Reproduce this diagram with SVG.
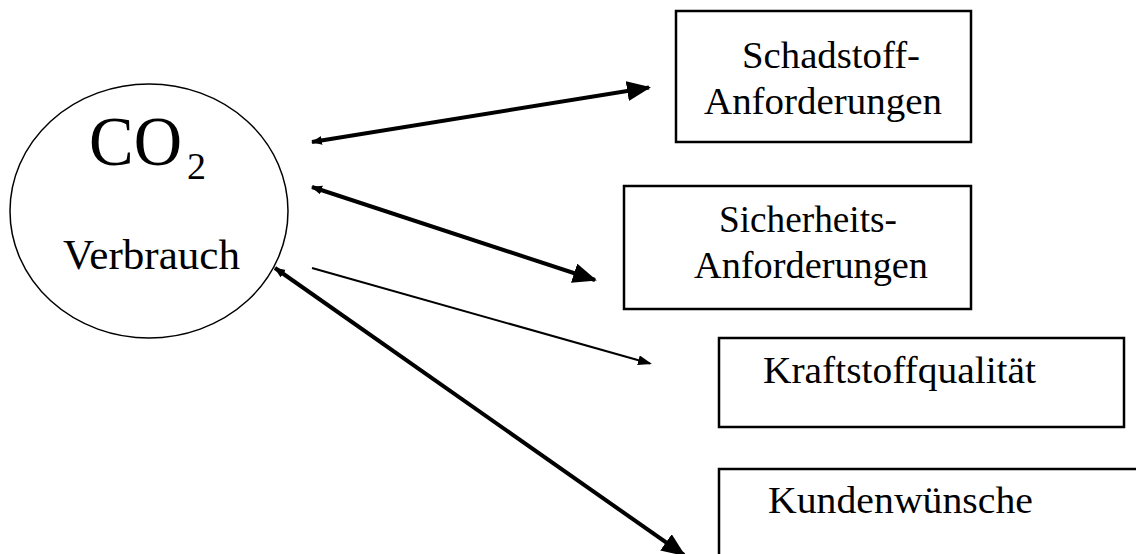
<svg xmlns="http://www.w3.org/2000/svg" width="1136" height="554" viewBox="0 0 1136 554">
<style>
.box{fill:#fff;stroke:#000;stroke-width:2.5}
.t{font-family:'Liberation Serif','DejaVu Serif',serif;fill:#000}
.c{fill:none;stroke:#000;stroke-linecap:butt}
</style>
<defs>
<marker id="big" markerUnits="userSpaceOnUse" markerWidth="26" markerHeight="22" refX="22" refY="10" orient="auto-start-reverse">
<path d="M0,0 L24,10 L0,20 z" fill="#000"/>
</marker>
<marker id="mid" markerUnits="userSpaceOnUse" markerWidth="16" markerHeight="12" refX="12" refY="5" orient="auto-start-reverse">
<path d="M0,0 L14,5 L0,10 z" fill="#000"/>
</marker>
<marker id="small" markerUnits="userSpaceOnUse" markerWidth="12" markerHeight="10" refX="10" refY="4.5" orient="auto-start-reverse">
<path d="M0,0 L11,4.5 L0,9 z" fill="#000"/>
</marker>
</defs>
<rect width="1136" height="554" fill="#fff"/>
<g id="node-co2">
<ellipse cx="149" cy="211" rx="139" ry="127" fill="#fff" stroke="#000" stroke-width="1.5"/>
<text class="t" font-family="Liberation Serif, DejaVu Serif, serif" x="89" y="165" font-size="70" textLength="93" lengthAdjust="spacingAndGlyphs">CO</text>
<text class="t" font-family="Liberation Serif, DejaVu Serif, serif" x="187" y="179" font-size="38">2</text>
<text class="t" font-family="Liberation Serif, DejaVu Serif, serif" x="63" y="269" font-size="43" textLength="177" lengthAdjust="spacingAndGlyphs">Verbrauch</text>
</g>
<g id="node-schadstoff">
<rect class="box" x="676" y="11" width="295" height="131"/>
<text class="t" font-family="Liberation Serif, DejaVu Serif, serif" x="742" y="68" font-size="37" textLength="178" lengthAdjust="spacingAndGlyphs">Schadstoff-</text>
<text class="t" font-family="Liberation Serif, DejaVu Serif, serif" x="704" y="114" font-size="37" textLength="238" lengthAdjust="spacingAndGlyphs">Anforderungen</text>
</g>
<g id="node-sicherheit">
<rect class="box" x="624" y="186" width="347" height="123"/>
<text class="t" font-family="Liberation Serif, DejaVu Serif, serif" x="719" y="232" font-size="37" textLength="178" lengthAdjust="spacingAndGlyphs">Sicherheits-</text>
<text class="t" font-family="Liberation Serif, DejaVu Serif, serif" x="694" y="278" font-size="37" textLength="234" lengthAdjust="spacingAndGlyphs">Anforderungen</text>
</g>
<g id="node-kraftstoff">
<rect class="box" x="719" y="338" width="405" height="89"/>
<text class="t" font-family="Liberation Serif, DejaVu Serif, serif" x="763" y="383" font-size="37" textLength="273" lengthAdjust="spacingAndGlyphs">Kraftstoffqualität</text>
</g>
<g id="node-kunden">
<rect class="box" x="719" y="469" width="430" height="100"/>
<text class="t" font-family="Liberation Serif, DejaVu Serif, serif" x="768" y="513" font-size="37" textLength="265" lengthAdjust="spacingAndGlyphs">Kundenwünsche</text>
</g>
<g id="connectors">
<path class="c" d="M312,142 L649,87.5" stroke-width="4" marker-start="url(#small)" marker-end="url(#big)"/>
<path class="c" d="M312,187 L595,280" stroke-width="4" marker-start="url(#small)" marker-end="url(#big)"/>
<path class="c" d="M312,268 L650,363.5" stroke-width="2" marker-end="url(#mid)"/>
<path class="c" d="M275,268 L684,555" stroke-width="4" marker-start="url(#small)" marker-end="url(#big)"/>
</g>
</svg>
